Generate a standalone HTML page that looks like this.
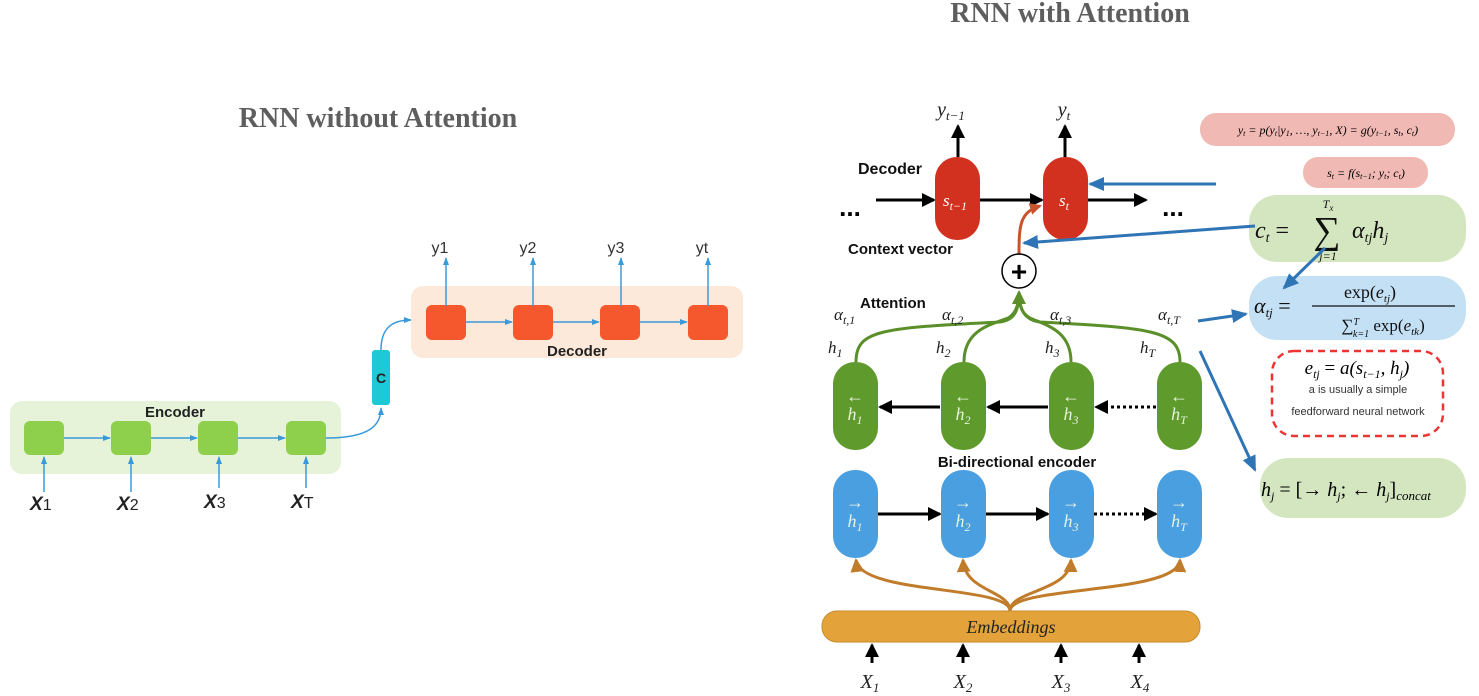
<!DOCTYPE html><html><head><style>body{margin:0;background:#fff}svg{display:block}</style></head><body>
<svg width="1479" height="696" viewBox="0 0 1479 696" xmlns="http://www.w3.org/2000/svg" font-family="Liberation Sans, sans-serif">
<defs>
<marker id="ab" markerWidth="8" markerHeight="8" refX="7" refY="4" orient="auto" markerUnits="userSpaceOnUse"><path d="M0,1 L8,4 L0,7z" fill="#3a9ad9"/></marker>
<marker id="ak" markerWidth="14" markerHeight="14" refX="12" refY="7" orient="auto" markerUnits="userSpaceOnUse"><path d="M0,0 L14,7 L0,14z" fill="#000"/></marker>
<marker id="abl" markerWidth="16" markerHeight="16" refX="14" refY="8" orient="auto" markerUnits="userSpaceOnUse"><path d="M0,1 L16,8 L0,15z" fill="#2f74b5"/></marker>
<marker id="ag" markerWidth="14" markerHeight="14" refX="12" refY="7" orient="auto" markerUnits="userSpaceOnUse"><path d="M0,0 L14,7 L0,14z" fill="#5a8f2a"/></marker>
<marker id="ao" markerWidth="14" markerHeight="14" refX="12" refY="7" orient="auto" markerUnits="userSpaceOnUse"><path d="M0,0 L14,7 L0,14z" fill="#c07c2a"/></marker>
<marker id="ar" markerWidth="12" markerHeight="12" refX="10" refY="6" orient="auto" markerUnits="userSpaceOnUse"><path d="M0,0 L12,6 L0,12z" fill="#c9542b"/></marker>
</defs>
<!-- LEFT -->
<text x="378" y="127" text-anchor="middle" font-family="Liberation Serif, serif" font-weight="bold" font-size="28" fill="#5e5e5e">RNN without Attention</text>
<rect x="10" y="401" width="331" height="73" rx="12" fill="#e6f3d8"/>
<rect x="411" y="286" width="332" height="72" rx="12" fill="#fde9da"/>
<text x="175" y="417" text-anchor="middle" font-weight="bold" font-size="15" fill="#222">Encoder</text>
<g fill="#8ed04c"><rect x="24" y="421" width="40" height="34" rx="6"/><rect x="111" y="421" width="40" height="34" rx="6"/><rect x="198" y="421" width="40" height="34" rx="6"/><rect x="286" y="421" width="40" height="34" rx="6"/></g>
<g fill="#f4582c"><rect x="426" y="305" width="40" height="35" rx="6"/><rect x="513" y="305" width="40" height="35" rx="6"/><rect x="600" y="305" width="40" height="35" rx="6"/><rect x="688" y="305" width="40" height="35" rx="6"/></g>
<g stroke="#3a9ad9" stroke-width="1.5" fill="none" marker-end="url(#ab)">
<line x1="64" y1="438" x2="110" y2="438"/><line x1="151" y1="438" x2="197" y2="438"/><line x1="238" y1="438" x2="285" y2="438"/>
<line x1="44" y1="492" x2="44" y2="457"/><line x1="131" y1="492" x2="131" y2="457"/><line x1="219" y1="488" x2="219" y2="457"/><line x1="306" y1="488" x2="306" y2="457"/>
<path d="M326,438 C370,438 381,425 381,408"/>
<path d="M381,350 C381,330 390,320 411,320"/>
<line x1="466" y1="322" x2="512" y2="322"/><line x1="553" y1="322" x2="599" y2="322"/><line x1="640" y1="322" x2="687" y2="322"/>
<line x1="446" y1="306" x2="446" y2="258"/><line x1="533" y1="306" x2="533" y2="258"/><line x1="621" y1="306" x2="621" y2="258"/><line x1="708" y1="306" x2="708" y2="258"/>
</g>
<g font-size="16" fill="#222"><text x="30" y="510"><tspan font-style="italic" font-weight="bold" font-size="19">X</tspan>1</text><text x="117" y="510"><tspan font-style="italic" font-weight="bold" font-size="19">X</tspan>2</text><text x="204" y="508"><tspan font-style="italic" font-weight="bold" font-size="19">X</tspan>3</text><text x="291" y="508"><tspan font-style="italic" font-weight="bold" font-size="19">X</tspan>T</text></g>
<rect x="372" y="350" width="18" height="55" rx="3" fill="#1cc9d4"/>
<text x="381" y="383" text-anchor="middle" font-weight="bold" font-size="14" fill="#222">C</text>
<text x="577" y="356" text-anchor="middle" font-weight="bold" font-size="15" fill="#222">Decoder</text>
<g font-size="16" fill="#333" text-anchor="middle"><text x="440" y="253">y1</text><text x="528" y="253">y2</text><text x="616" y="253">y3</text><text x="702" y="253">yt</text></g>
<!-- RIGHT -->
<text x="1070" y="22" text-anchor="middle" font-family="Liberation Serif, serif" font-weight="bold" font-size="28" fill="#5e5e5e">RNN with Attention</text>
<g font-family="Liberation Serif, serif" font-style="italic" font-size="20" fill="#222" text-anchor="middle">
<text x="951" y="116">y<tspan font-size="13" dy="4">t−1</tspan></text><text x="1064" y="116">y<tspan font-size="13" dy="4">t</tspan></text></g>
<g stroke="#000" stroke-width="3" fill="none" marker-end="url(#ak)">
<line x1="958" y1="157" x2="958" y2="126"/><line x1="1065" y1="157" x2="1065" y2="126"/>
<line x1="876" y1="200" x2="934" y2="200"/><line x1="980" y1="200" x2="1042" y2="200"/><line x1="1088" y1="200" x2="1146" y2="200"/>
<line x1="940" y1="407" x2="880" y2="407"/><line x1="1048" y1="407" x2="988" y2="407"/>
<line x1="878" y1="514" x2="940" y2="514"/><line x1="986" y1="514" x2="1048" y2="514"/>
<line x1="872" y1="663" x2="872" y2="645"/><line x1="963" y1="663" x2="963" y2="645"/><line x1="1061" y1="663" x2="1061" y2="645"/><line x1="1139" y1="663" x2="1139" y2="645"/>
</g>
<g stroke="#000" stroke-width="3" stroke-dasharray="3,3" fill="none" marker-end="url(#ak)"><line x1="1156" y1="407" x2="1096" y2="407"/><line x1="1094" y1="514" x2="1156" y2="514"/></g>
<text x="850" y="216" font-weight="bold" font-size="26" text-anchor="middle">...</text>
<text x="1173" y="216" font-weight="bold" font-size="26" text-anchor="middle">...</text>
<text x="858" y="174" font-weight="bold" font-size="16" fill="#111">Decoder</text>
<rect x="935" y="157" width="45" height="83" rx="22" fill="#d3311f"/>
<rect x="1043" y="157" width="45" height="83" rx="22" fill="#d3311f"/>
<g font-family="Liberation Serif, serif" font-style="italic" font-size="17" fill="#fff" text-anchor="middle"><text x="955" y="206">s<tspan font-size="12" dy="4">t−1</tspan></text><text x="1064" y="206">s<tspan font-size="12" dy="4">t</tspan></text></g>
<text x="848" y="254" font-weight="bold" font-size="15" fill="#111">Context vector</text>
<path d="M1019,254 C1019,225 1020,212 1040,206" stroke="#c9542b" stroke-width="3" fill="none" marker-end="url(#ar)"/>
<circle cx="1019" cy="271" r="17" fill="#fff" stroke="#000" stroke-width="1.5"/>
<text x="1019" y="281" text-anchor="middle" font-size="28" font-weight="bold">+</text>
<text x="860" y="308" font-weight="bold" font-size="15" fill="#111">Attention</text>
<g stroke="#5a8f2a" stroke-width="3" fill="none">
<path d="M856,362 C856,330 880,328 1000,322 C1015,320 1019,310 1019,292" marker-end="url(#ag)"/>
<path d="M964,362 C964,330 990,325 1008,318 C1015,314 1019,306 1019,292"/>
<path d="M1071,362 C1071,330 1045,325 1030,318 C1022,314 1019,306 1019,292"/>
<path d="M1180,362 C1180,330 1150,328 1040,322 C1025,320 1019,310 1019,292"/>
</g>
<g font-family="Liberation Serif, serif" font-style="italic" font-size="17" fill="#222">
<text x="834" y="320">α<tspan font-size="12" dy="4">t,1</tspan></text><text x="942" y="320">α<tspan font-size="12" dy="4">t,2</tspan></text><text x="1050" y="320">α<tspan font-size="12" dy="4">t,3</tspan></text><text x="1158" y="320">α<tspan font-size="12" dy="4">t,T</tspan></text>
<text x="828" y="353">h<tspan font-size="12" dy="4">1</tspan></text><text x="936" y="353">h<tspan font-size="12" dy="4">2</tspan></text><text x="1045" y="353">h<tspan font-size="12" dy="4">3</tspan></text><text x="1140" y="353">h<tspan font-size="12" dy="4">T</tspan></text>
</g>
<g fill="#5e9a2c"><rect x="833" y="362" width="45" height="88" rx="22"/><rect x="941" y="362" width="45" height="88" rx="22"/><rect x="1049" y="362" width="45" height="88" rx="22"/><rect x="1157" y="362" width="45" height="88" rx="22"/></g>
<g fill="#4a9fe0"><rect x="833" y="470" width="45" height="88" rx="22"/><rect x="941" y="470" width="45" height="88" rx="22"/><rect x="1049" y="470" width="45" height="88" rx="22"/><rect x="1157" y="470" width="45" height="88" rx="22"/></g>
<g font-family="Liberation Serif, serif" font-style="italic" font-size="18" fill="#e8f2e0" text-anchor="middle">
<text x="855" y="402" font-style="normal">←</text><text x="855" y="420">h<tspan font-size="12" dy="4">1</tspan></text>
<text x="963" y="402" font-style="normal">←</text><text x="963" y="420">h<tspan font-size="12" dy="4">2</tspan></text>
<text x="1071" y="402" font-style="normal">←</text><text x="1071" y="420">h<tspan font-size="12" dy="4">3</tspan></text>
<text x="1179" y="402" font-style="normal">←</text><text x="1179" y="420">h<tspan font-size="12" dy="4">T</tspan></text>
<text x="855" y="508" font-style="normal">→</text><text x="855" y="527">h<tspan font-size="12" dy="4">1</tspan></text>
<text x="963" y="508" font-style="normal">→</text><text x="963" y="527">h<tspan font-size="12" dy="4">2</tspan></text>
<text x="1071" y="508" font-style="normal">→</text><text x="1071" y="527">h<tspan font-size="12" dy="4">3</tspan></text>
<text x="1179" y="508" font-style="normal">→</text><text x="1179" y="527">h<tspan font-size="12" dy="4">T</tspan></text>
</g>
<text x="1017" y="467" text-anchor="middle" font-weight="bold" font-size="15" fill="#111">Bi-directional encoder</text>
<g stroke="#c07c2a" stroke-width="3" fill="none" marker-end="url(#ao)">
<path d="M1010,611 C1010,585 860,595 856,560"/>
<path d="M1010,611 C1010,590 965,592 963,560"/>
<path d="M1010,611 C1010,590 1070,592 1071,560"/>
<path d="M1010,611 C1010,585 1178,595 1180,560"/>
</g>
<rect x="822" y="611" width="378" height="31" rx="15" fill="#e3a33a" stroke="#c98a2a"/>
<text x="1011" y="633" text-anchor="middle" font-family="Liberation Serif, serif" font-style="italic" font-size="18" fill="#222">Embeddings</text>
<g font-family="Liberation Serif, serif" font-style="italic" font-size="20" fill="#222" text-anchor="middle">
<text x="870" y="688">X<tspan font-size="13" dy="4">1</tspan></text><text x="963" y="688">X<tspan font-size="13" dy="4">2</tspan></text><text x="1061" y="688">X<tspan font-size="13" dy="4">3</tspan></text><text x="1140" y="688">X<tspan font-size="13" dy="4">4</tspan></text></g>
<!-- right formulas -->
<rect x="1200" y="113" width="255" height="33" rx="16" fill="#f1b9b4"/>
<text x="1328" y="134" text-anchor="middle" font-family="Liberation Serif, serif" font-style="italic" font-size="12">y<tspan font-size="8" dy="2">t</tspan><tspan dy="-2"> = p(y</tspan><tspan font-size="8" dy="2">t</tspan><tspan dy="-2">|y</tspan><tspan font-size="8" dy="2">1</tspan><tspan dy="-2">, …, y</tspan><tspan font-size="8" dy="2">t−1</tspan><tspan dy="-2">, X) = g(y</tspan><tspan font-size="8" dy="2">t−1</tspan><tspan dy="-2">, s</tspan><tspan font-size="8" dy="2">t</tspan><tspan dy="-2">, c</tspan><tspan font-size="8" dy="2">t</tspan><tspan dy="-2">)</tspan></text>
<rect x="1303" y="157" width="125" height="31" rx="15" fill="#f1b9b4"/>
<text x="1366" y="177" text-anchor="middle" font-family="Liberation Serif, serif" font-style="italic" font-size="12">s<tspan font-size="8" dy="2">t</tspan><tspan dy="-2"> = f(s</tspan><tspan font-size="8" dy="2">t−1</tspan><tspan dy="-2">; y</tspan><tspan font-size="8" dy="2">t</tspan><tspan dy="-2">; c</tspan><tspan font-size="8" dy="2">t</tspan><tspan dy="-2">)</tspan></text>
<rect x="1249" y="195" width="217" height="67" rx="28" fill="#d4e6c0"/>
<g font-family="Liberation Serif, serif" font-style="italic" fill="#111">
<text x="1255" y="238" font-size="24">c<tspan font-size="14" dy="4">t</tspan><tspan dy="-4" font-style="normal"> = </tspan></text>
<text x="1327" y="243" font-size="38" font-style="normal" text-anchor="middle">∑</text>
<text x="1328" y="208" font-size="12" text-anchor="middle">T<tspan font-size="9" dy="3">x</tspan></text>
<text x="1328" y="260" font-size="12" text-anchor="middle">j=1</text>
<text x="1352" y="238" font-size="24">α<tspan font-size="14" dy="4">tj</tspan><tspan dy="-4">h</tspan><tspan font-size="14" dy="4">j</tspan></text>
</g>
<rect x="1249" y="276" width="217" height="64" rx="28" fill="#c4e0f4"/>
<g font-family="Liberation Serif, serif" fill="#111">
<text x="1254" y="313" font-size="22" font-style="italic">α<tspan font-size="13" dy="4">tj</tspan><tspan dy="-4" font-style="normal"> =</tspan></text>
<text x="1370" y="298" font-size="18" text-anchor="middle">exp(<tspan font-style="italic">e</tspan><tspan font-size="11" dy="4" font-style="italic">tj</tspan><tspan dy="-4">)</tspan></text>
<line x1="1312" y1="306" x2="1455" y2="306" stroke="#111" stroke-width="1.2"/>
<text x="1383" y="331" font-size="17" text-anchor="middle">∑<tspan font-size="10" dy="-6" font-style="italic">T</tspan><tspan font-size="10" dx="-6" dy="12" font-style="italic">k=1</tspan><tspan dy="-6"> exp(</tspan><tspan font-style="italic">e</tspan><tspan font-size="11" dy="4" font-style="italic">tk</tspan><tspan dy="-4">)</tspan></text>
</g>
<rect x="1272" y="351" width="171" height="85" rx="22" fill="none" stroke="#e33" stroke-width="2.5" stroke-dasharray="7,5"/>
<text x="1357" y="374" text-anchor="middle" font-family="Liberation Serif, serif" font-style="italic" font-size="19">e<tspan font-size="12" dy="4">tj</tspan><tspan dy="-4" font-style="normal"> = </tspan>a(s<tspan font-size="12" dy="4">t−1</tspan><tspan dy="-4">, h</tspan><tspan font-size="12" dy="4">j</tspan><tspan dy="-4">)</tspan></text>
<text x="1358" y="393" text-anchor="middle" font-size="11" fill="#333">a is usually a simple</text>
<text x="1358" y="415" text-anchor="middle" font-size="11" fill="#333">feedforward neural network</text>
<rect x="1260" y="458" width="206" height="60" rx="28" fill="#d4e6c0"/>
<text x="1261" y="496" font-family="Liberation Serif, serif" font-style="italic" font-size="20">h<tspan font-size="12" dy="4">j</tspan><tspan dy="-4" font-style="normal"> = [→ </tspan>h<tspan font-size="12" dy="4">j</tspan><tspan dy="-4" font-style="normal">; ← </tspan>h<tspan font-size="12" dy="4">j</tspan><tspan dy="-4" font-style="normal">]</tspan><tspan font-size="13" dy="4">concat</tspan></text>
<g stroke="#2f74b5" stroke-width="3" fill="none" marker-end="url(#abl)">
<line x1="1216" y1="184" x2="1090" y2="184"/>
<line x1="1255" y1="226" x2="1024" y2="243"/>
<line x1="1325" y1="248" x2="1284" y2="288"/>
<line x1="1198" y1="321" x2="1246" y2="314"/>
<line x1="1200" y1="351" x2="1255" y2="470"/>
</g>
</svg>
</body></html>
